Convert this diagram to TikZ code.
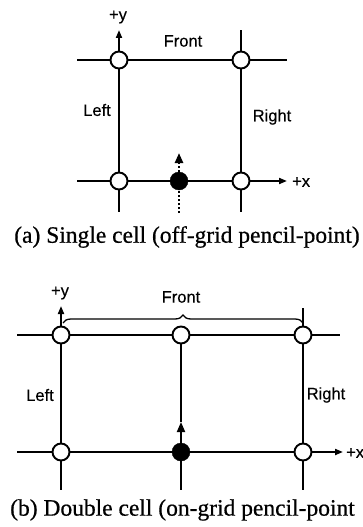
\documentclass[tikz,border=0pt]{standalone}
\usepackage{fontspec}
\setmainfont{Liberation Serif}
\setsansfont{Liberation Sans}
\newfontfamily\capfont[FakeBold=0.6]{Liberation Serif}
\newfontfamily\labfont[FakeBold=0.3]{Liberation Sans}
\usetikzlibrary{arrows.meta,decorations.pathreplacing}
\tikzset{
  gridline/.style={line width=1.9pt},
  axisarrow/.style={gridline,-{Triangle[length=8pt,width=6pt]}},
  bigtip/.style={-{Triangle[length=10pt,width=8pt]}},
  opendot/.style={circle,draw,fill=white,line width=1.9pt,minimum size=17pt,inner sep=0pt},
  filldot/.style={circle,fill=black,draw=black,minimum size=18pt,inner sep=0pt},
  dottedline/.style={line width=2.4pt,dash pattern=on 2pt off 2pt},
  lab/.style={font=\labfont\fontsize{16.5}{18}\selectfont,inner sep=0pt},
  captext/.style={font=\capfont\fontsize{23.5}{26}\selectfont,inner sep=0pt},
  bracestyle/.style={line width=1.3pt,decorate,decoration={brace,amplitude=8pt}}
}
\begin{document}
\begin{tikzpicture}[x=1pt,y=-1pt]
\useasboundingbox[fill=white] (0,0) rectangle (363,527);
% ---------- (a) ----------
\coordinate (aL1) at (77,60);
\coordinate (aR1) at (287,60);
\coordinate (aL2) at (77,181);
\coordinate (aX) at (287,181);
\coordinate (aY) at (119,30);
\coordinate (aRt) at (241,30);
\coordinate (aLb) at (119,212);
\coordinate (aRb) at (241,212);
\coordinate (aPb) at (179,213);
\coordinate (aPt) at (179,153);
\node[opendot] (aTL) at (119,60) {};
\node[opendot] (aTR) at (241,60) {};
\node[opendot] (aBL) at (119,181) {};
\node[opendot] (aBR) at (241,181) {};
\node[filldot] (aP) at (179,181) {};
\draw[gridline] (aL1) -- (aTL) (aTL) -- (aTR) (aTR) -- (aR1);
\draw[gridline] (aL2) -- (aBL) (aBL) -- (aP) (aP) -- (aBR);
\draw[axisarrow] (aBR) -- (aX);
\draw[axisarrow] (aTL) -- (aY);
\draw[gridline] (aTR) -- (aRt);
\draw[gridline] (aTL) -- (aBL) (aTR) -- (aBR);
\draw[gridline] (aBL) -- (aLb) (aBR) -- (aRb);
\draw[dottedline] (aPb) -- (aP);
\draw[dottedline,bigtip] (aP) -- (aPt);
\node[lab] (aly) at (118,17) {+y};
\node[lab] (alf) at (183,41) {Front};
\node[lab] (all) at (97,110) {Left};
\node[lab] (alr) at (272,117) {Right};
\node[lab,anchor=west] (alx) at (292,182) {+x};
\node[captext] (capa) at (187,237) {(a) Single cell (off-grid pencil-point)};
% ---------- (b) ----------
\coordinate (bL1) at (17,335);
\coordinate (bR1) at (340,335);
\coordinate (bL2) at (17,452);
\coordinate (bX) at (343,452);
\coordinate (bY) at (61,306);
\coordinate (bRt) at (303,308);
\coordinate (bLb) at (61,490);
\coordinate (bMb) at (181,490);
\coordinate (bRb) at (303,490);
\coordinate (bMa) at (181,422);
\coordinate (bBrL) at (63,323);
\coordinate (bBrR) at (303,323);
\node[opendot] (bTL) at (61,335) {};
\node[opendot] (bTM) at (181,335) {};
\node[opendot] (bTR) at (303,335) {};
\node[opendot] (bBL) at (61,452) {};
\node[filldot] (bBM) at (181,452) {};
\node[opendot] (bBR) at (303,452) {};
\draw[gridline] (bL1) -- (bTL) (bTL) -- (bTM) (bTM) -- (bTR) (bTR) -- (bR1);
\draw[gridline] (bL2) -- (bBL) (bBL) -- (bBM) (bBM) -- (bBR);
\draw[axisarrow] (bBR) -- (bX);
\draw[axisarrow] (bTL) -- (bY);
\draw[gridline] (bTR) -- (bRt);
\draw[gridline] (bTL) -- (bBL) (bTR) -- (bBR);
\draw[gridline] (bBL) -- (bLb) (bBM) -- (bMb) (bBR) -- (bRb);
\draw[gridline,bigtip] (bBM) -- (bMa);
\draw[gridline] (bMa) -- (bTM);
\draw[bracestyle] (bBrL) -- (bBrR);
\node[lab] (bly) at (60,293) {+y};
\node[lab] (blf) at (181,297) {Front};
\node[lab] (bll) at (40,395) {Left};
\node[lab] (blr) at (326,395) {Right};
\node[lab,anchor=west] (blx) at (346,453) {+x};
\node[captext,anchor=west] (capb) at (10,510) {(b) Double cell (on-grid pencil-point};
\end{tikzpicture}
\end{document}
